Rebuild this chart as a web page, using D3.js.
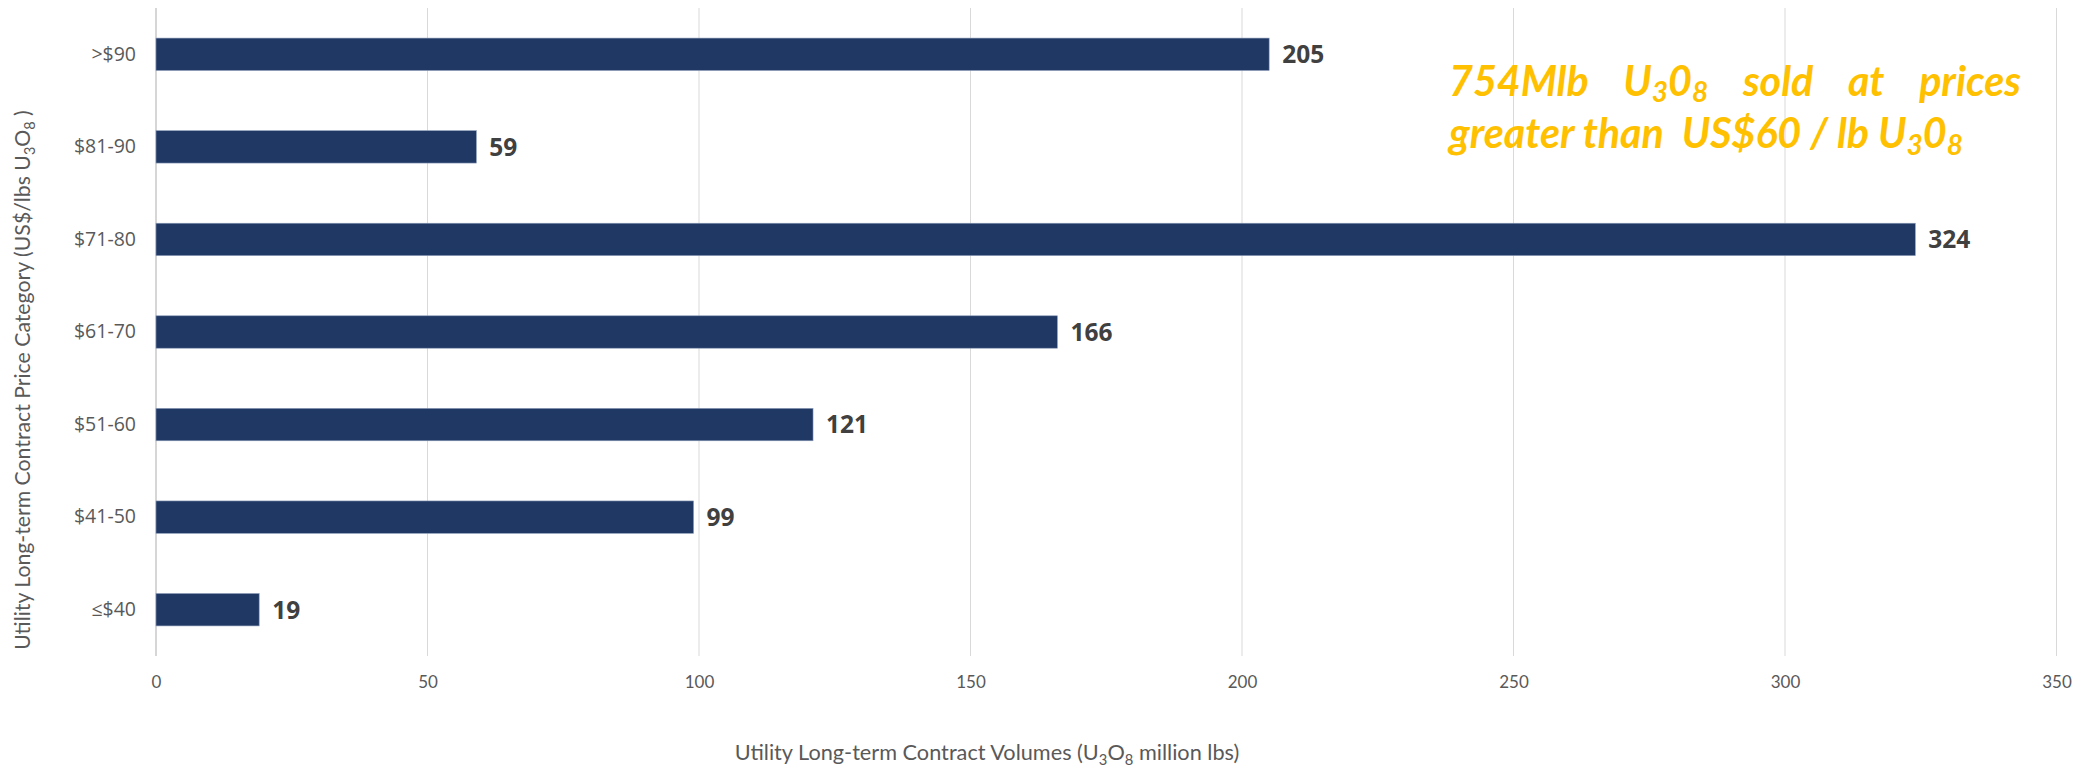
<!DOCTYPE html>
<html>
<head>
<meta charset="utf-8">
<script src="https://cdn.jsdelivr.net/npm/d3@7"></script>
<style>
  html, body { margin: 0; padding: 0; background: #ffffff; }
  svg { display: block; }
</style>
</head>
<body>
<svg id="chart" width="2094" height="768"></svg>
<script>
// ---- data ----
const categories = [">$90", "$81-90", "$71-80", "$61-70", "$51-60", "$41-50", "≤$40"];
const volumes = [205, 59, 324, 166, 121, 99, 19];
const xTicks = [0, 50, 100, 150, 200, 250, 300, 350];
const xDomain = [0, 350];
const xTitleParts = [["Utility Long-term Contract Volumes (U", 0], ["3", 1], ["O", 0], ["8", 1], [" million lbs)", 0]];
const yTitleParts = [["Utility Long-term Contract Price Category (US$/lbs U", 0], ["3", 1], ["O", 0], ["8", 1], [" )", 0]];
const noteLine1Words = [
  [["754Mlb", 0]],
  [["U", 0], ["3", 1], ["0", 0], ["8", 1]],
  [["sold", 0]],
  [["at", 0]],
  [["prices", 0]]
];
const noteLine2 = [["greater than  US$60 / lb U", 0], ["3", 1], ["0", 0], ["8", 1]];

// ---- layout ----
const W = 2094, H = 768;
const plot = { left: 156, right: 2056.5, top: 8, bottom: 656 };
const svg = d3.select("#chart");
svg.append("rect").attr("width", W).attr("height", H).attr("fill", "#fff");

const x = d3.scaleLinear().domain(xDomain).range([plot.left, plot.right]);
const y = d3.scaleBand().domain(categories).range([plot.top, plot.bottom]).padding(0);
const barH = y.bandwidth() * 0.35;

// gridlines
svg.append("g").selectAll("line").data(xTicks).join("line")
  .attr("x1", d => x(d)).attr("x2", d => x(d))
  .attr("y1", plot.top).attr("y2", plot.bottom)
  .attr("stroke", d => d === 0 ? "#c8c8c8" : "#d9d9d9")
  .attr("stroke-width", d => d === 0 ? 1.5 : 1);

// x axis tick labels via d3 axis
const xAxis = d3.axisBottom(x).tickValues(xTicks).tickSize(0).tickPadding(0);
const gx = svg.append("g").attr("transform", `translate(0,${plot.bottom + 20})`).call(xAxis);
gx.select(".domain").remove();
gx.selectAll("text")
  .attr("font-family", "Lato, 'Open Sans', sans-serif")
  .attr("font-size", 17).attr("fill", "#595959").attr("dy", "0.71em");

// y axis labels via d3 axis
const yAxis = d3.axisLeft(y).tickSize(0).tickPadding(0);
const gy = svg.append("g").attr("transform", `translate(${plot.left - 20},0)`).call(yAxis);
gy.select(".domain").remove();
gy.selectAll("text")
  .attr("font-family", "'Open Sans', sans-serif")
  .attr("font-size", 19.5).attr("fill", "#595959");

// bars
const rows = categories.map((c, i) => ({ c, v: volumes[i] }));
svg.append("g").selectAll("rect").data(rows).join("rect")
  .attr("x", x(0))
  .attr("y", d => y(d.c) + (y.bandwidth() - barH) / 2)
  .attr("width", d => x(d.v) - x(0))
  .attr("height", barH)
  .attr("fill", "#203864")
  .attr("stroke", "#8a9bb8").attr("stroke-width", 0.6);

// value labels
svg.append("g").selectAll("text").data(rows).join("text")
  .attr("x", d => x(d.v) + 13)
  .attr("y", d => y(d.c) + y.bandwidth() / 2)
  .attr("dy", "0.36em")
  .attr("font-family", "'Open Sans', sans-serif")
  .attr("font-weight", 700)
  .attr("font-size", 24.5)
  .attr("fill", "#404040")
  .text(d => d.v);

// rich text helper (subscripts)
function rich(sel, parts, sub) {
  parts.forEach(([t, isSub], i) => {
    const prevSub = i > 0 && parts[i - 1][1];
    const ts = sel.append("tspan").text(t);
    if (isSub) ts.attr("dy", sub).attr("font-size", "0.68em");
    else if (prevSub) ts.attr("dy", -sub);
  });
  return sel;
}
function fit(sel, target) {
  const fs = parseFloat(sel.attr("font-size"));
  const w = sel.node().getComputedTextLength();
  sel.attr("font-size", fs * target / w);
}

// x title
const xt = svg.append("text")
  .attr("x", 987).attr("y", 760)
  .attr("text-anchor", "middle")
  .attr("font-family", "Lato, 'Open Sans', sans-serif")
  .attr("font-size", 20).attr("fill", "#595959");
rich(xt, xTitleParts, 5);
fit(xt, 505);

// y title
const yt = svg.append("text")
  .attr("transform", "translate(30,380) rotate(-90)")
  .attr("text-anchor", "middle")
  .attr("font-family", "Lato, 'Open Sans', sans-serif")
  .attr("font-size", 20).attr("fill", "#595959");
rich(yt, yTitleParts, 5);
fit(yt, 540);

// annotation
const noteFont = "Lato, 'Open Sans', sans-serif";
const noteLeft = 1449, noteRight = 2021;
const n2 = svg.append("text")
  .attr("x", noteLeft).attr("y", 148)
  .attr("font-family", noteFont).attr("font-weight", 700).attr("font-style", "italic")
  .attr("font-size", 40).attr("fill", "#FFC000")
  .style("white-space", "pre");
rich(n2, noteLine2, 7);
fit(n2, 514);
const noteSize = parseFloat(n2.attr("font-size"));

// line 1: justified, one text element per word
const g1 = svg.append("g");
const words = noteLine1Words.map(parts => {
  const t = g1.append("text")
    .attr("y", 96)
    .attr("font-family", noteFont).attr("font-weight", 700).attr("font-style", "italic")
    .attr("font-size", noteSize).attr("fill", "#FFC000");
  rich(t, parts, 6);
  return t;
});
const widths = words.map(t => t.node().getComputedTextLength());
const gap = (noteRight - noteLeft - d3.sum(widths)) / (words.length - 1);
let cx = noteLeft;
words.forEach((t, i) => { t.attr("x", cx); cx += widths[i] + gap; });
</script>
</body>
</html>
